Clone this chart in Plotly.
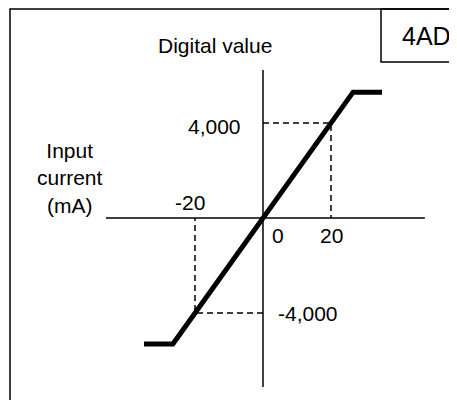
import plotly.graph_objects as go

# Transfer characteristic (input current mA -> digital value)
curve_x = [-35, -26.5, 26.5, 35]
curve_y = [-5300, -5300, 5300, 5300]

# Reference points (dashed guides)
ref_current = [20, -20]
ref_digital = [4000, -4000]

# Axis extents
axis_x_extent = [-46.2, 47.6]
axis_y_extent = [-7116, 6232]

# Tick labels
x_tick_labels = ["-20", "0", "20"]
y_tick_labels = ["4,000", "-4,000"]

FONT = "Arial, Liberation Sans, sans-serif"
W, H = 457, 400
OX, OY = 255, 210          # pixel of origin inside figure
SX, SY = 3.4, 0.02375      # px per unit

fig = go.Figure()

# axes
fig.add_trace(go.Scatter(x=axis_x_extent, y=[0, 0], mode="lines",
                         line=dict(color="black", width=1.5), hoverinfo="skip"))
fig.add_trace(go.Scatter(x=[0, 0], y=axis_y_extent, mode="lines",
                         line=dict(color="black", width=1.5), hoverinfo="skip"))

# dashed guides
for cx, dy in zip(ref_current, ref_digital):
    fig.add_trace(go.Scatter(x=[0, cx, cx], y=[dy, dy, 0], mode="lines",
                             line=dict(color="black", width=1.5, dash="6px,4px"),
                             hoverinfo="skip"))

# main curve
fig.add_trace(go.Scatter(x=curve_x, y=curve_y, mode="lines",
                         line=dict(color="black", width=5), hoverinfo="skip"))

fs = 21
ann = []
# x tick labels
ann.append(dict(x=ref_current[1], y=0, text=x_tick_labels[0], xanchor="center",
                yanchor="bottom", yshift=2, xshift=-5))
ann.append(dict(x=0, y=0, text=x_tick_labels[1], xanchor="left",
                yanchor="top", xshift=7, yshift=-4))
ann.append(dict(x=ref_current[0], y=0, text=x_tick_labels[2], xanchor="center",
                yanchor="top", yshift=-4))
# y tick labels
ann.append(dict(x=0, y=ref_digital[0], text=y_tick_labels[0], xanchor="right",
                yanchor="middle", xshift=-20, yshift=-3))
ann.append(dict(x=0, y=ref_digital[1], text=y_tick_labels[1], xanchor="left",
                yanchor="middle", xshift=13))
for a in ann:
    a.update(xref="x", yref="y", showarrow=False, font=dict(family=FONT, size=fs, color="black"))

ann.append(dict(xref="paper", yref="paper", x=207/W, y=1-37/H, text="Digital value",
                showarrow=False, xanchor="center", yanchor="middle",
                font=dict(family=FONT, size=fs, color="black")))
ann.append(dict(xref="paper", yref="paper", x=62/W, y=1-170/H,
                text="Input<br>current<br>(mA)", showarrow=False,
                xanchor="center", yanchor="middle",
                font=dict(family=FONT, size=fs, color="black")))
ann.append(dict(xref="paper", yref="paper", x=418/W, y=1-28/H, text="4AD",
                showarrow=False, xanchor="center", yanchor="middle",
                font=dict(family=FONT, size=25, color="black")))

shapes = [
    dict(type="rect", xref="paper", yref="paper", x0=2/W, x1=1.05, y0=-0.05, y1=1-1/H,
         line=dict(color="black", width=1.5)),
    dict(type="rect", xref="paper", yref="paper", x0=373/W, x1=1.05, y0=1-54/H, y1=1-1/H,
         line=dict(color="black", width=1.5)),
]

fig.update_layout(
    width=W, height=H, autosize=False,
    margin=dict(l=0, r=0, t=0, b=0),
    paper_bgcolor="white", plot_bgcolor="white",
    showlegend=False,
    xaxis=dict(range=[-OX/SX, (W-OX)/SX], visible=False, fixedrange=True),
    yaxis=dict(range=[-(H-OY)/SY, OY/SY], visible=False, fixedrange=True),
    annotations=ann, shapes=shapes,
)

fig.write_html("out.html", config={"displayModeBar": False})
